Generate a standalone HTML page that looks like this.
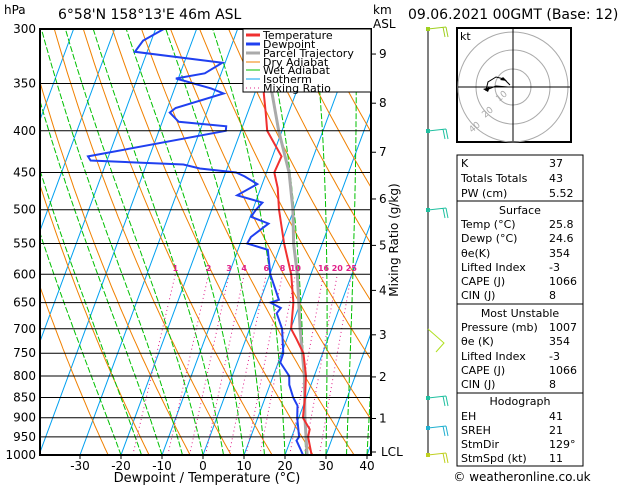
<!DOCTYPE html>
<html><head><meta charset="utf-8">
<style>
html,body{margin:0;padding:0;background:#fff;}
svg{display:block;font-family:"DejaVu Sans","Liberation Sans",sans-serif;}
.t{font-size:12px;fill:#000;}
.s{font-size:11px;fill:#000;}
</style></head>
<body>
<svg id="chart" width="629" height="486" viewBox="0 0 629 486" xmlns="http://www.w3.org/2000/svg">
<defs><clipPath id="plotclip"><rect x="40" y="29" width="331" height="426"/></clipPath></defs>
<text class="t" x="4" y="14">hPa</text>
<text class="t" x="58" y="19" style="font-size:14px">6°58'N  158°13'E  46m  ASL</text>
<text class="t" x="373" y="14">km</text>
<text class="t" x="373" y="28">ASL</text>
<text class="t" x="408" y="19" style="font-size:14px">09.06.2021  00GMT  (Base: 12)</text>
<g id="plot" clip-path="url(#plotclip)"></g>
<g id="over"></g>
<rect x="40" y="29" width="331" height="426" fill="none" stroke="#000" stroke-width="2"/>
<g id="legend">
<rect x="243" y="29" width="128" height="63" fill="#fff" stroke="#000" stroke-width="1"/>
<line x1="246" y1="35" x2="260" y2="35" stroke="#f03030" stroke-width="3"/><text class="s" x="263" y="39">Temperature</text>
<line x1="246" y1="44" x2="260" y2="44" stroke="#2040f0" stroke-width="3"/><text class="s" x="263" y="48">Dewpoint</text>
<line x1="246" y1="53" x2="260" y2="53" stroke="#aaa" stroke-width="3"/><text class="s" x="263" y="57">Parcel Trajectory</text>
<line x1="246" y1="62" x2="260" y2="62" stroke="#f08000" stroke-width="1"/><text class="s" x="263" y="66">Dry Adiabat</text>
<line x1="246" y1="70" x2="260" y2="70" stroke="#00c000" stroke-width="1"/><text class="s" x="263" y="74">Wet Adiabat</text>
<line x1="246" y1="79" x2="260" y2="79" stroke="#00a0f0" stroke-width="1"/><text class="s" x="263" y="83">Isotherm</text>
<line x1="246" y1="88" x2="260" y2="88" stroke="#e0208a" stroke-width="1" stroke-dasharray="1,3"/><text class="s" x="263" y="92">Mixing Ratio</text>
</g>
<text class="t" x="207" y="482" text-anchor="middle" style="font-size:13px">Dewpoint / Temperature (°C)</text>
<text class="t" transform="translate(398,240) rotate(-90)" text-anchor="middle">Mixing Ratio (g/kg)</text>
<g id="hodo">
<rect x="457" y="28" width="114" height="114" fill="#fff" stroke="#000" stroke-width="2"/>
<text class="s" x="460" y="40">kt</text>
<circle cx="513" cy="87" r="18" fill="none" stroke="#aaa"/>
<circle cx="513" cy="87" r="37" fill="none" stroke="#aaa"/>
<circle cx="513" cy="87" r="55" fill="none" stroke="#aaa"/>
<line x1="458" y1="87" x2="570" y2="87" stroke="#000"/>
<line x1="513" y1="29" x2="513" y2="141" stroke="#000"/>
<text x="499" y="102" style="font-size:9px;fill:#aaa" transform="rotate(-40 499 102)">10</text>
<text x="485" y="118" style="font-size:9px;fill:#aaa" transform="rotate(-40 485 118)">20</text>
<text x="472" y="133" style="font-size:9px;fill:#aaa" transform="rotate(-40 472 133)">40</text>
<polyline points="508,87 496,86 486,90 488,82 496,77 504,79 510,85" fill="none" stroke="#000" stroke-width="1"/>
<polygon points="483,89 490,87 488,92" fill="#000"/><polygon points="503,77 507,81 500,80" fill="#000"/>
</g>
<g id="table">
<rect x="457" y="155" width="126" height="311" fill="#fff" stroke="#000" stroke-width="1"/>
<line x1="457" y1="201" x2="583" y2="201" stroke="#000"/>
<line x1="457" y1="304" x2="583" y2="304" stroke="#000"/>
<line x1="457" y1="393" x2="583" y2="393" stroke="#000"/>
</g>
<g id="barbs"><line x1="428" y1="29" x2="428" y2="457" stroke="#000" stroke-width="1"/></g>
<text class="t" x="522" y="481" text-anchor="middle">© weatheronline.co.uk</text>
<script>
const pressures=[1000,950,930,900,850,800,750,720,700,650,600,550,500,470,450,430,400,380,360,355];
const tempValues=[26.5,24.0,23.7,21.0,19.7,18.0,15.3,12.3,10.1,8.3,5.2,0.7,-3.6,-5.9,-8.1,-7.8,-13.6,-15.6,-17.8,-18.2];
const dewPressures=[1000,980,960,950,900,870,850,820,800,770,750,700,670,660,650,645,600,560,550,540,520,510,500,490,480,465,455,450,445,440,435,430,400,395,390,380,375,360,355,345,340,330,320,310,300];
const dewValues=[24.4,23,21.5,21.8,19.6,18.6,16.8,14.7,13.9,10.5,10.4,7.9,5.2,5.7,2.7,4.5,0.1,-2.7,-8.3,-8.0,-4.9,-9.8,-9.2,-8.3,-15.1,-11.2,-15,-17.4,-26.6,-31,-54,-55,-23.7,-24,-36,-39,-38,-27.6,-31,-40.6,-34,-30.7,-53,-52,-48];
const parcelPressures=[1000,900,800,700,600,550,500,450,400,350,300];
const parcelValues=[25.4,21.5,17.6,12.3,6.7,3.0,-0.2,-4.5,-10.8,-17.1,-25];
const pressureTicks=[300,350,400,450,500,550,600,650,700,750,800,850,900,950,1000];
const tempTicks=[-30,-20,-10,0,10,20,30,40];
const kmTicks=[1,2,3,4,5,6,7,8,9];
const kmPressures=[902,802,712,628,553,485,425,370,322];
const mixRatios=[1,2,3,4,6,8,10,16,20,25];
const tableLabels=["K","Totals Totals","PW (cm)","Surface","Temp (°C)","Dewp (°C)","θe(K)","Lifted Index","CAPE (J)","CIN (J)","Most Unstable","Pressure (mb)","θe (K)","Lifted Index","CAPE (J)","CIN (J)","Hodograph","EH","SREH","StmDir","StmSpd (kt)"];
const tableValues=["37","43","5.52","","25.8","24.6","354","-3","1066","8","","1007","354","-3","1066","8","","41","21","129°","11"];

const NS="http://www.w3.org/2000/svg";
const yP=p=>455-426*Math.log(1000/p)/Math.log(1000/300);
const xT=(t,p)=>203+4.1*t+0.37*(455-yP(p));
function mk(tag,attrs,parent){const e=document.createElementNS(NS,tag);for(const k in attrs)e.setAttribute(k,attrs[k]);parent.appendChild(e);return e;}
const plot=document.getElementById('plot');
const over=document.getElementById('over');
const svg=document.getElementById('chart');
for(let t=-120;t<=50;t+=10){const l=mk('line',{x1:xT(t,1000),y1:yP(1000),x2:xT(t,300),y2:yP(300),stroke:'#00a0f0','stroke-width':1},plot);

}
for(let th=250;th<=480;th+=10){let pts=[];for(let p=1000;p>=300;p-=10){const T=th*Math.pow(p/1000,0.286)-273.15;pts.push(xT(T,p).toFixed(1)+','+yP(p).toFixed(1));}
const l=mk('polyline',{points:pts.join(' '),fill:'none',stroke:'#f08000','stroke-width':1},plot);

}
function es(T){return 6.112*Math.exp(17.67*T/(T+243.5));}
for(let t0=-20;t0<=40;t0+=5){let T=t0+273.15,pts=[];for(let p=1000;p>=300;p-=5){pts.push(xT(T-273.15,p).toFixed(1)+','+yP(p).toFixed(1));
const rs=0.622*es(T-273.15)/(p-es(T-273.15));const Lv=2.5e6,Rd=287,cp=1005;
const dTdp=(Rd*T+Lv*rs)/(p*(cp+Lv*Lv*rs*0.622/(Rd*T*T)));T-=dTdp*5;}
const l=mk('polyline',{points:pts.join(' '),fill:'none',stroke:'#00c000','stroke-width':1,'stroke-dasharray':'6,2'},plot);

}
function tw(w,p){const e=w*p/(622+w);const a=Math.log(e/6.112);return 243.5*a/(17.67-a);}
mixRatios.forEach(w=>{const l=mk('line',{x1:xT(tw(w,1000),1000),y1:yP(1000),x2:xT(tw(w,600),600),y2:yP(600),stroke:'#e0208a','stroke-width':1,'stroke-dasharray':'1,3'},plot);


const tx=mk('text',{x:xT(tw(w,600),600),y:271,'text-anchor':'middle',style:'font-size:8px;fill:#e0208a;font-weight:bold'},over);tx.textContent=w;

});
pressureTicks.forEach(p=>{const l=mk('line',{x1:40,y1:yP(p),x2:371,y2:yP(p),stroke:'#000','stroke-width':1},over);


const tx=mk('text',{x:36,y:yP(p)+4,'text-anchor':'end',class:'t'},svg);tx.textContent=p;

});
tempTicks.forEach(t=>{const tx=mk('text',{x:xT(t,1000),y:470,'text-anchor':'middle',class:'t'},svg);tx.textContent=t;


mk('line',{x1:xT(t,1000),y1:455,x2:xT(t,1000),y2:459,stroke:'#000'},svg);});
kmTicks.forEach((k,i)=>{const y=yP(kmPressures[i]);mk('line',{x1:371,y1:y,x2:376,y2:y,stroke:'#000'},svg);
const tx=mk('text',{x:379,y:y+4,class:'t'},svg);tx.textContent=k;

});
mk('line',{x1:371,y1:452,x2:376,y2:452,stroke:'#000'},svg);
{const tx=mk('text',{x:381,y:456,class:'t'},svg);tx.textContent='LCL';

}
function prof(ps,ts,color,w,name){const pts=ps.map((p,i)=>xT(ts[i],p).toFixed(1)+','+yP(p).toFixed(1));
const l=mk('polyline',{points:pts.join(' '),fill:'none',stroke:color,'stroke-width':w},plot);

}
prof(parcelPressures,parcelValues,'#aaaaaa',3,'parcel-trajectory');
prof(pressures,tempValues,'#f03030',2,'temperature-line');
prof(dewPressures,dewValues,'#2040f0',2,'dewpoint-line');
const tb=document.getElementById('table');
const rowY=[167,182,197,214,228,242,257,271,285,299,317,331,345,360,374,388,405,420,434,448,462];
tableLabels.forEach((lab,i)=>{const hdr=tableValues[i]==='';
const tx=mk('text',{x:hdr?520:461,y:rowY[i],class:'s','text-anchor':hdr?'middle':'start'},tb);tx.textContent=lab;


if(!hdr){const v=mk('text',{x:549,y:rowY[i],class:'s'},tb);v.textContent=tableValues[i];

}});
const bg=document.getElementById('barbs');
[[29,'#a0d020'],[131,'#20c0a0'],[210,'#20c0a0'],[398,'#20c0a0'],[428,'#20b0d0'],[455,'#c0d020']].forEach(([y,c])=>{
mk('path',{d:`M428 ${y} L446 ${y-2} M446 ${y-2} L448 ${y+8} M443 ${y-2} L445 ${y+8}`,stroke:c,fill:'none','stroke-width':1},bg);
mk('rect',{x:426,y:y-2,width:4,height:4,fill:c},bg);});
mk('path',{d:'M428 329 L444 343 L436 352',stroke:'#b0e020',fill:'none'},bg);
</script>
</svg>
</body></html>
